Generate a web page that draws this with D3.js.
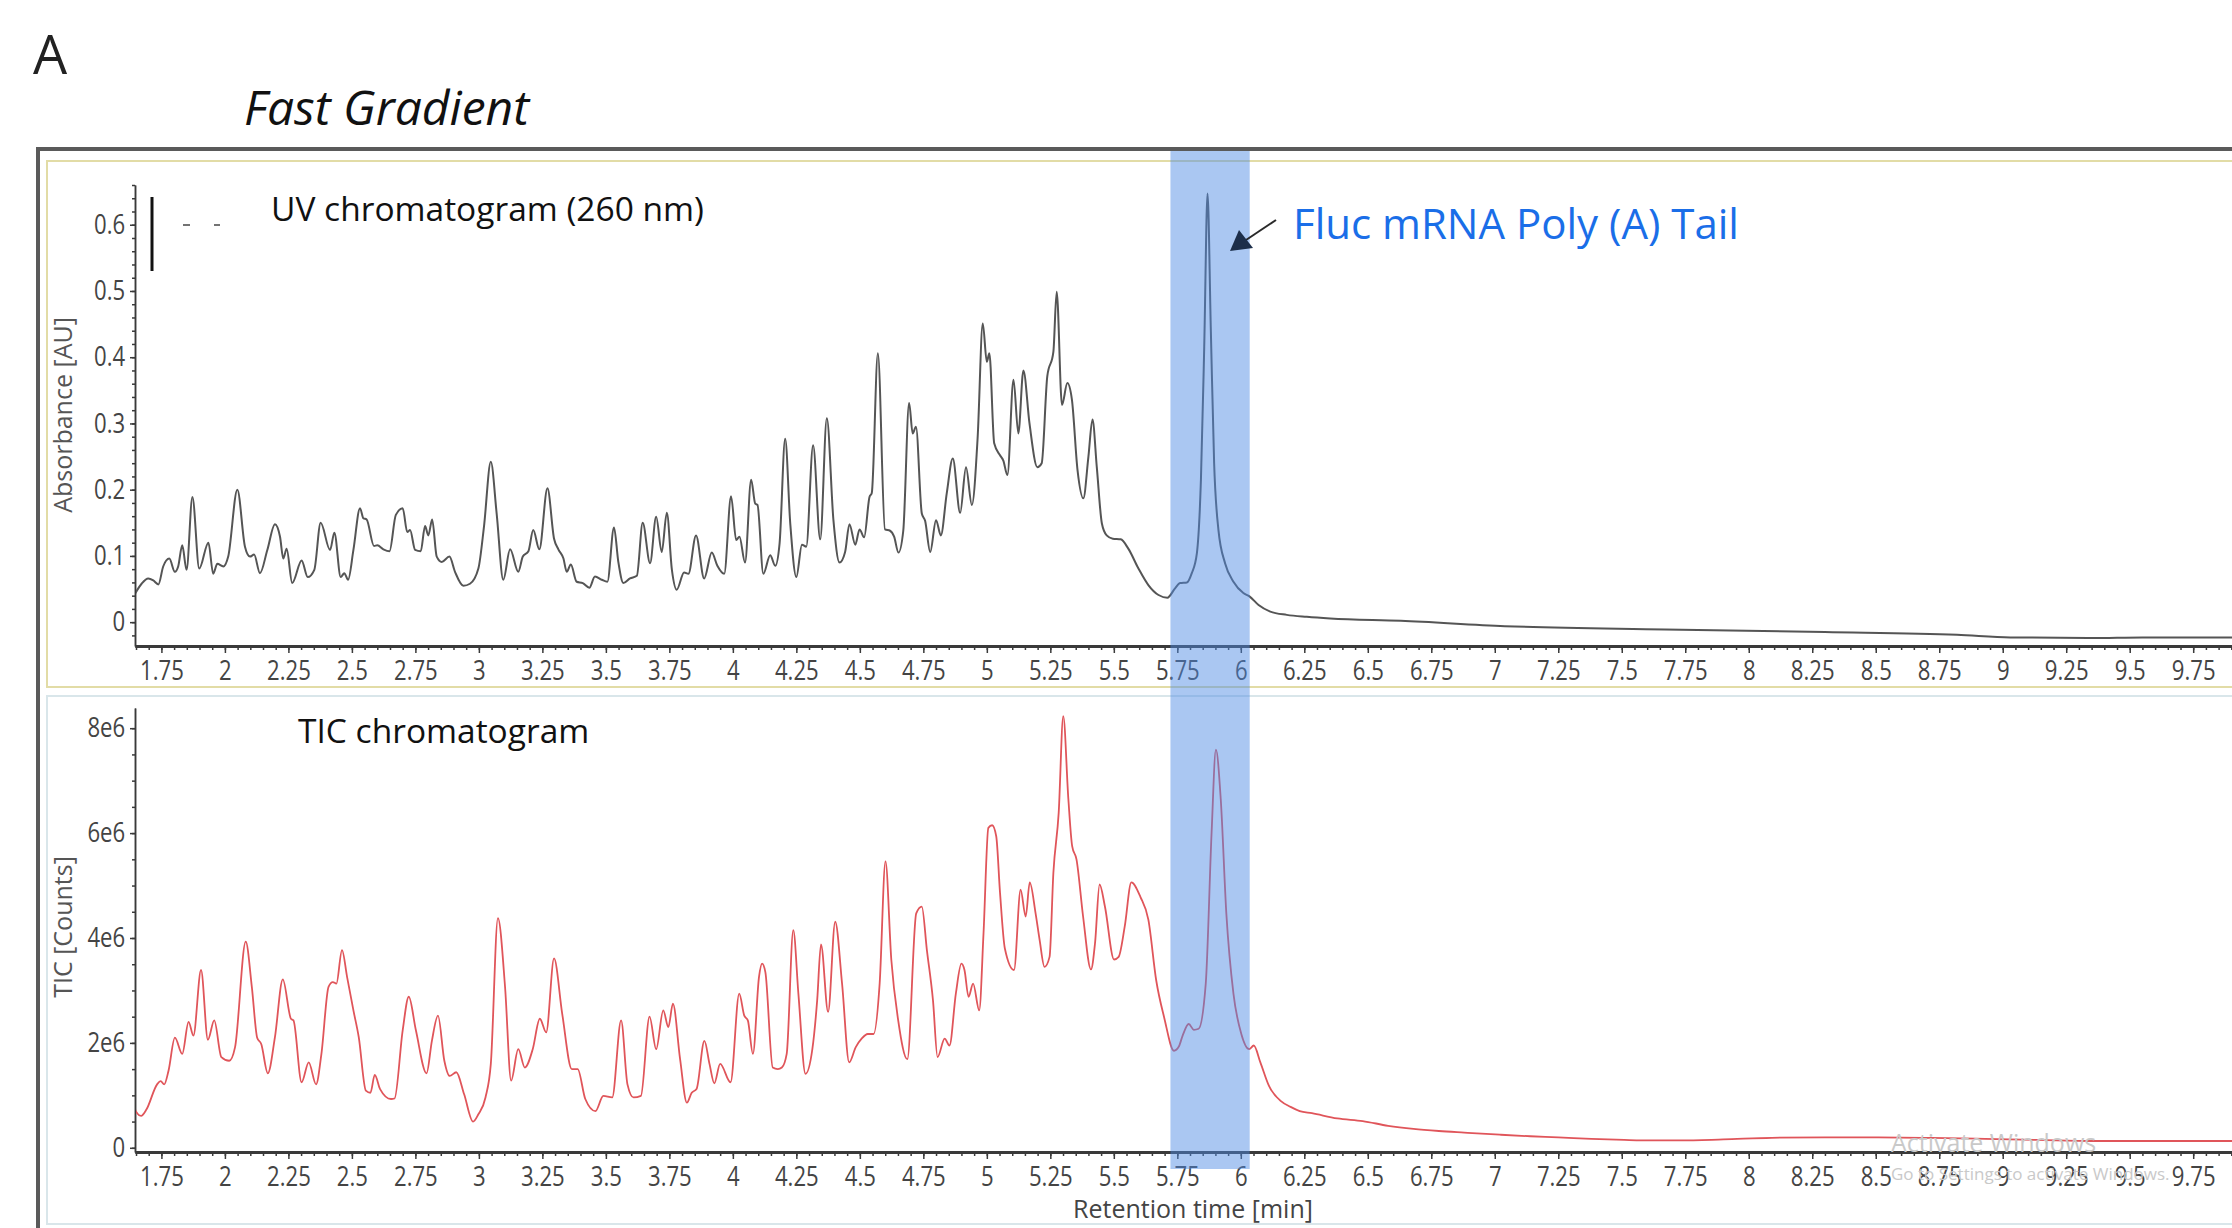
<!DOCTYPE html>
<html>
<head>
<meta charset="utf-8">
<script src="https://cdn.jsdelivr.net/npm/d3@7"></script>
<style>
  body { margin: 0; background: #fff; }
  svg { display: block; }
  text { font-family: "Open Sans", "Noto Sans", sans-serif; }
</style>
</head>
<body>
<div id="chromatogram"></div>
<script>
// UV trace at 260 nm: retention time [min] and absorbance [AU]
var uvTime = [1.646, 1.672, 1.698, 1.718, 1.738, 1.757, 1.781, 1.803, 1.816, 1.832, 1.849, 1.872, 1.899, 1.935, 1.954, 1.970, 1.994,
  2.013, 2.049, 2.079, 2.099, 2.115, 2.138, 2.167, 2.197, 2.217, 2.230, 2.243, 2.265, 2.302, 2.326, 2.352, 2.377, 2.414, 2.431, 2.456,
  2.470, 2.485, 2.506, 2.532, 2.545, 2.558, 2.587, 2.600, 2.624, 2.648, 2.673, 2.700, 2.718, 2.729, 2.749, 2.771, 2.788, 2.801, 2.816,
  2.834, 2.854, 2.884, 2.906, 2.939, 2.965, 2.998, 3.020, 3.047, 3.070, 3.096, 3.123, 3.155, 3.173, 3.195, 3.214, 3.238, 3.270, 3.296,
  3.313, 3.333, 3.346, 3.362, 3.385, 3.409, 3.435, 3.457, 3.484, 3.506, 3.532, 3.549, 3.569, 3.595, 3.622, 3.645, 3.674, 3.698, 3.720,
  3.740, 3.760, 3.779, 3.808, 3.825, 3.855, 3.887, 3.917, 3.939, 3.966, 3.993, 4.013, 4.026, 4.048, 4.072, 4.088, 4.097, 4.120, 4.147,
  4.167, 4.184, 4.206, 4.226, 4.250, 4.272, 4.289, 4.316, 4.344, 4.370, 4.396, 4.420, 4.442, 4.459, 4.482, 4.499, 4.517, 4.538, 4.547,
  4.571, 4.599, 4.619, 4.635, 4.652, 4.671, 4.694, 4.708, 4.721, 4.744, 4.757, 4.777, 4.800, 4.819, 4.842, 4.866, 4.895, 4.918, 4.941,
  4.964, 4.984, 5.000, 5.010, 5.029, 5.052, 5.065, 5.081, 5.105, 5.124, 5.144, 5.168, 5.199, 5.216, 5.238, 5.262, 5.275, 5.296, 5.317,
  5.335, 5.357, 5.380, 5.400, 5.416, 5.433, 5.453, 5.472, 5.496, 5.527, 5.557, 5.597, 5.636, 5.676, 5.711, 5.741, 5.761, 5.788, 5.807,
  5.827, 5.843, 5.856, 5.869, 5.882, 5.895, 5.912, 5.938, 5.971, 6.010, 6.034, 6.070, 6.116, 6.181, 6.260, 6.352, 6.63, 7.04, 7.67,
  8.30, 8.82, 9.03, 9.35, 9.55, 9.95];
var uvAbs = [0.043, 0.058, 0.066, 0.063, 0.057, 0.084, 0.096, 0.076, 0.084, 0.116, 0.079, 0.189, 0.081, 0.120, 0.073, 0.088, 0.084,
  0.099, 0.200, 0.114, 0.099, 0.102, 0.074, 0.109, 0.148, 0.129, 0.096, 0.111, 0.059, 0.093, 0.068, 0.079, 0.150, 0.109, 0.135, 0.068,
  0.074, 0.064, 0.109, 0.172, 0.157, 0.155, 0.115, 0.116, 0.110, 0.107, 0.162, 0.172, 0.136, 0.139, 0.109, 0.107, 0.145, 0.131, 0.155,
  0.099, 0.091, 0.099, 0.076, 0.055, 0.058, 0.081, 0.144, 0.242, 0.164, 0.064, 0.110, 0.076, 0.099, 0.107, 0.139, 0.110, 0.202, 0.126,
  0.110, 0.096, 0.076, 0.087, 0.061, 0.059, 0.052, 0.069, 0.064, 0.061, 0.143, 0.091, 0.059, 0.066, 0.070, 0.150, 0.089, 0.159, 0.106,
  0.165, 0.079, 0.049, 0.075, 0.073, 0.131, 0.066, 0.105, 0.085, 0.073, 0.190, 0.124, 0.129, 0.090, 0.215, 0.179, 0.177, 0.073, 0.101,
  0.085, 0.119, 0.277, 0.149, 0.068, 0.117, 0.114, 0.267, 0.125, 0.308, 0.154, 0.090, 0.106, 0.148, 0.117, 0.140, 0.128, 0.189, 0.195,
  0.406, 0.140, 0.138, 0.129, 0.105, 0.138, 0.331, 0.285, 0.295, 0.164, 0.153, 0.106, 0.154, 0.131, 0.194, 0.247, 0.165, 0.234, 0.177,
  0.280, 0.451, 0.393, 0.406, 0.270, 0.252, 0.244, 0.222, 0.366, 0.285, 0.380, 0.300, 0.234, 0.240, 0.371, 0.408, 0.499, 0.328, 0.361,
  0.336, 0.230, 0.187, 0.250, 0.306, 0.234, 0.149, 0.131, 0.126, 0.125, 0.111, 0.081, 0.056, 0.041, 0.037, 0.051, 0.059, 0.060, 0.074,
  0.104, 0.215, 0.416, 0.647, 0.441, 0.240, 0.139, 0.089, 0.061, 0.044, 0.039, 0.026, 0.016, 0.011, 0.008, 0.0055, 0.002, -0.006, -0.011,
  -0.015, -0.019, -0.023, -0.024, -0.023, -0.023];

// total ion current: retention time [min] and counts in millions
var ticTime = [1.635, 1.649, 1.670, 1.691, 1.733, 1.747, 1.761, 1.778, 1.803, 1.832, 1.857, 1.876, 1.906, 1.933, 1.958, 1.986, 2.017,
  2.040, 2.082, 2.106, 2.127, 2.143, 2.169, 2.197, 2.228, 2.260, 2.270, 2.302, 2.330, 2.359, 2.380, 2.408, 2.425, 2.439, 2.461, 2.481,
  2.506, 2.527, 2.555, 2.573, 2.590, 2.611, 2.654, 2.668, 2.700, 2.724, 2.752, 2.794, 2.815, 2.839, 2.864, 2.885, 2.911, 2.942, 2.977,
  2.998, 3.026, 3.047, 3.075, 3.103, 3.127, 3.155, 3.181, 3.212, 3.240, 3.265, 3.296, 3.328, 3.366, 3.389, 3.419, 3.459, 3.490, 3.525,
  3.560, 3.585, 3.609, 3.638, 3.672, 3.698, 3.726, 3.746, 3.764, 3.792, 3.819, 3.838, 3.857, 3.888, 3.908, 3.927, 3.950, 3.991, 4.025,
  4.045, 4.059, 4.079, 4.103, 4.115, 4.128, 4.157, 4.177, 4.193, 4.212, 4.238, 4.258, 4.286, 4.313, 4.332, 4.347, 4.375, 4.403, 4.430,
  4.458, 4.484, 4.507, 4.531, 4.554, 4.578, 4.601, 4.624, 4.651, 4.687, 4.722, 4.744, 4.764, 4.788, 4.806, 4.834, 4.853, 4.878, 4.900,
  4.912, 4.928, 4.946, 4.970, 4.987, 5.006, 5.021, 5.037, 5.052, 5.071, 5.107, 5.133, 5.153, 5.169, 5.192, 5.208, 5.227, 5.247, 5.262,
  5.283, 5.301, 5.321, 5.336, 5.353, 5.379, 5.410, 5.426, 5.444, 5.465, 5.501, 5.519, 5.543, 5.569, 5.605, 5.636, 5.667, 5.698, 5.737,
  5.756, 5.771, 5.795, 5.815, 5.834, 5.862, 5.885, 5.902, 5.921, 5.943, 5.971, 6.002, 6.033, 6.051, 6.077, 6.111, 6.158, 6.196, 6.232,
  6.28, 6.38, 6.48, 6.58, 6.68, 6.78, 6.88, 7.02, 7.14, 7.25, 7.38, 7.51, 7.62, 7.73, 7.90, 8.09, 8.30, 8.51, 8.72, 8.93, 9.14, 9.35,
  9.60, 9.95];
var ticCounts = [0.96, 0.70, 0.61, 0.73, 1.21, 1.27, 1.21, 1.47, 2.10, 1.79, 2.40, 2.14, 3.39, 2.06, 2.43, 1.73, 1.66,
  1.92, 3.93, 3.07, 2.10, 1.98, 1.42, 2.11, 3.21, 2.46, 2.43, 1.25, 1.63, 1.21, 1.79, 3.07, 3.16, 3.13, 3.77, 3.26,
  2.62, 2.11, 1.09, 1.05, 1.39, 1.12, 0.93, 0.94, 2.24, 2.88, 2.24, 1.42, 2.04, 2.52, 1.66, 1.37, 1.44, 1.02, 0.50,
  0.64, 0.96, 1.60, 4.38, 3.07, 1.28, 1.88, 1.53, 1.88, 2.46, 2.20, 3.61, 2.56, 1.50, 1.50, 0.93, 0.70, 0.99, 0.96,
  2.43, 1.21, 0.96, 0.99, 2.50, 1.88, 2.62, 2.30, 2.75, 1.70, 0.86, 1.05, 1.12, 2.04, 1.60, 1.23, 1.60, 1.25, 2.94,
  2.52, 2.43, 1.79, 3.26, 3.51, 3.35, 1.53, 1.50, 1.53, 1.79, 4.15, 2.94, 1.41, 1.88, 2.81, 3.88, 2.59, 4.31, 3.13,
  1.63, 1.92, 2.08, 2.17, 2.17, 3.13, 5.46, 3.58, 2.43, 1.69, 4.47, 4.60, 3.77, 2.81, 1.73, 2.08, 1.95, 2.94, 3.51,
  3.39, 2.88, 3.13, 2.62, 4.09, 6.10, 6.15, 5.94, 4.86, 3.80, 3.39, 4.92, 4.41, 5.06, 4.47, 3.96, 3.45, 3.64, 5.24,
  6.39, 8.23, 6.65, 5.75, 5.50, 4.41, 3.40, 3.90, 5.02, 4.60, 3.59, 3.64, 4.22, 5.06, 4.78, 4.35, 3.19, 2.49, 1.85,
  1.93, 2.14, 2.36, 2.25, 2.27, 3.13, 6.01, 7.59, 6.65, 4.47, 2.94, 2.17, 1.88, 1.95, 1.63, 1.18, 0.89, 0.78, 0.70,
  0.66, 0.56, 0.51, 0.42, 0.36, 0.32, 0.29, 0.25, 0.22, 0.20, 0.17, 0.15, 0.14, 0.14, 0.16, 0.19, 0.20, 0.20, 0.19, 0.17, 0.15, 0.13,
  0.13, 0.13];

var timeTicks = [1.75, 2, 2.25, 2.5, 2.75, 3, 3.25, 3.5, 3.75, 4, 4.25, 4.5, 4.75, 5, 5.25, 5.5, 5.75, 6,
  6.25, 6.5, 6.75, 7, 7.25, 7.5, 7.75, 8, 8.25, 8.5, 8.75, 9, 9.25, 9.5, 9.75];
var uvTicks = [0, 0.1, 0.2, 0.3, 0.4, 0.5, 0.6];
var ticTicks = [0, 2, 4, 6, 8];
var ticTickLabels = ["0", "2e6", "4e6", "6e6", "8e6"];
var polyATail = [5.723, 6.035];   // highlighted window [min]

var width = 2232, height = 1228;

var svg = d3.select("#chromatogram")
    .append("svg")
        .attr("width", width)
        .attr("height", height);

var x = d3.scaleLinear().domain([1.646, 9.95]).range([135, 2244]);
var yUV = d3.scaleLinear().domain([-0.036, 0.66]).range([646, 185]);
var yTIC = d3.scaleLinear().domain([-0.08, 8.385]).range([1152, 708]);

// frames round the two panels
svg.append("path")
    .attr("d", "M38," + height + "V149H" + width)
    .attr("fill", "none")
    .attr("stroke", "#5a5a5a")
    .attr("stroke-width", 4);

svg.append("rect")
    .attr("x", 47).attr("y", 161).attr("width", 2220).attr("height", 526)
    .attr("fill", "#fff").attr("stroke", "#e2dca6").attr("stroke-width", 2);

svg.append("rect")
    .attr("x", 47).attr("y", 696).attr("width", 2220).attr("height", 528)
    .attr("fill", "#fff").attr("stroke", "#d9e6ea").attr("stroke-width", 2);

svg.append("text")
    .attr("x", 33).attr("y", 74)
    .style("font-size", "54px").style("fill", "#222")
    .text("A");

svg.append("text")
    .attr("x", 244).attr("y", 125)
    .style("font-size", "48px").style("font-style", "italic").style("fill", "#111")
    .text("Fast Gradient");

var minorTime = d3.range(1.65, 9.96, 0.05);

function styleAxis(g, w) {
    g.select(".domain").attr("stroke", "#3a3a3a").attr("stroke-width", w);
    g.selectAll(".tick line").attr("stroke", "#3a3a3a").attr("stroke-width", 1.5);
    g.selectAll(".tick text")
        .style("font-size", "27px")
        .style("fill", "#444")
        .attr("transform", "scale(0.82,1)");
}

function timeAxis(yPos) {
    svg.append("g")
        .attr("transform", "translate(0," + yPos + ")")
        .call(d3.axisBottom(x).tickValues(minorTime).tickSize(4).tickSizeOuter(0).tickFormat(""))
        .call(styleAxis, 3);
    svg.append("g")
        .attr("transform", "translate(0," + yPos + ")")
        .call(d3.axisBottom(x).tickValues(timeTicks).tickSize(7).tickSizeOuter(0).tickPadding(8)
            .tickFormat(function(d) { return String(d); }))
        .call(styleAxis, 3);
}

// UV panel
svg.append("g")
    .attr("transform", "translate(135,0)")
    .call(d3.axisLeft(yUV).tickValues(d3.range(-0.02, 0.661, 0.02)).tickSize(3).tickSizeOuter(0).tickFormat(""))
    .call(styleAxis, 1.5);
svg.append("g")
    .attr("transform", "translate(135,0)")
    .call(d3.axisLeft(yUV).tickValues(uvTicks).tickSize(5).tickSizeOuter(0).tickPadding(7)
        .tickFormat(function(d) { return String(d); }))
    .call(styleAxis, 1.5);
timeAxis(646);

svg.append("text")
    .attr("transform", "translate(72,415) rotate(-90)")
    .attr("text-anchor", "middle")
    .style("font-size", "25px").style("fill", "#555")
    .text("Absorbance [AU]");

svg.append("text")
    .attr("x", 271).attr("y", 221)
    .style("font-size", "33.5px").style("fill", "#111")
    .text("UV chromatogram (260 nm)");

// small legend stub in the corner
svg.append("line").attr("x1", 152).attr("x2", 152).attr("y1", 197).attr("y2", 271)
    .attr("stroke", "#111").attr("stroke-width", 3);
svg.append("line").attr("x1", 183).attr("x2", 190).attr("y1", 225).attr("y2", 225)
    .attr("stroke", "#444").attr("stroke-width", 1.5);
svg.append("line").attr("x1", 214).attr("x2", 220).attr("y1", 225).attr("y2", 225)
    .attr("stroke", "#444").attr("stroke-width", 1.5);

// TIC panel
svg.append("g")
    .attr("transform", "translate(135,0)")
    .call(d3.axisLeft(yTIC).tickValues(d3.range(0, 8.01, 0.5)).tickSize(3).tickSizeOuter(0).tickFormat(""))
    .call(styleAxis, 1.5);
svg.append("g")
    .attr("transform", "translate(135,0)")
    .call(d3.axisLeft(yTIC).tickValues(ticTicks).tickSize(5).tickSizeOuter(0).tickPadding(7)
        .tickFormat(function(d, i) { return ticTickLabels[i]; }))
    .call(styleAxis, 1.5);
timeAxis(1152);

svg.append("text")
    .attr("transform", "translate(72,927) rotate(-90)")
    .attr("text-anchor", "middle")
    .style("font-size", "25px").style("fill", "#555")
    .text("TIC [Counts]");

svg.append("text")
    .attr("x", 298).attr("y", 743)
    .style("font-size", "33.5px").style("fill", "#111")
    .text("TIC chromatogram");

svg.append("text")
    .attr("x", 1193).attr("y", 1218)
    .attr("text-anchor", "middle")
    .style("font-size", "25px").style("fill", "#444")
    .text("Retention time [min]");

// traces
var defs = svg.append("defs");
defs.append("clipPath").attr("id", "clipUV")
    .append("rect").attr("x", 136).attr("y", 150).attr("width", width).attr("height", 495);
defs.append("clipPath").attr("id", "clipTIC")
    .append("rect").attr("x", 136).attr("y", 700).attr("width", width).attr("height", 451);

var uvData = uvTime.map(function(t, i) { return {t: t, v: uvAbs[i]}; });
var ticData = ticTime.map(function(t, i) { return {t: t, v: ticCounts[i]}; });

svg.append("path")
    .datum(uvData)
    .attr("clip-path", "url(#clipUV)")
    .attr("fill", "none")
    .attr("stroke", "#555")
    .attr("stroke-width", 2)
    .attr("stroke-linejoin", "round")
    .attr("d", d3.line().curve(d3.curveMonotoneX)
        .x(function(d) { return x(d.t); })
        .y(function(d) { return yUV(d.v); }));

svg.append("path")
    .datum(ticData)
    .attr("clip-path", "url(#clipTIC)")
    .attr("fill", "none")
    .attr("stroke", "#e0555a")
    .attr("stroke-width", 1.8)
    .attr("stroke-linejoin", "round")
    .attr("d", d3.line().curve(d3.curveMonotoneX)
        .x(function(d) { return x(d.t); })
        .y(function(d) { return yTIC(d.v); }));

// faint OS watermark that sits in the screenshot
svg.append("text")
    .attr("x", 1891).attr("y", 1152)
    .style("font-size", "25px").style("fill", "#c9c9c9")
    .text("Activate Windows");
svg.append("text")
    .attr("x", 1891).attr("y", 1180)
    .style("font-size", "17px").style("fill", "#c9c9c9")
    .text("Go to Settings to activate Windows.");

// poly(A) tail window
svg.append("rect")
    .attr("x", x(polyATail[0]))
    .attr("y", 151)
    .attr("width", x(polyATail[1]) - x(polyATail[0]))
    .attr("height", 1018)
    .attr("fill", "rgb(78,138,228)")
    .attr("fill-opacity", 0.48);

// annotation arrow
svg.append("line")
    .attr("x1", 1276).attr("y1", 220).attr("x2", 1246).attr("y2", 240)
    .attr("stroke", "#2a2a2a").attr("stroke-width", 2);
svg.append("path")
    .attr("d", "M1230,251L1239,230L1253,248Z")
    .attr("fill", "#1c2e4a");

svg.append("text")
    .attr("x", 1293).attr("y", 239)
    .style("font-size", "42px").style("fill", "#1a6ee8")
    .text("Fluc mRNA Poly (A) Tail");
</script>
</body>
</html>
